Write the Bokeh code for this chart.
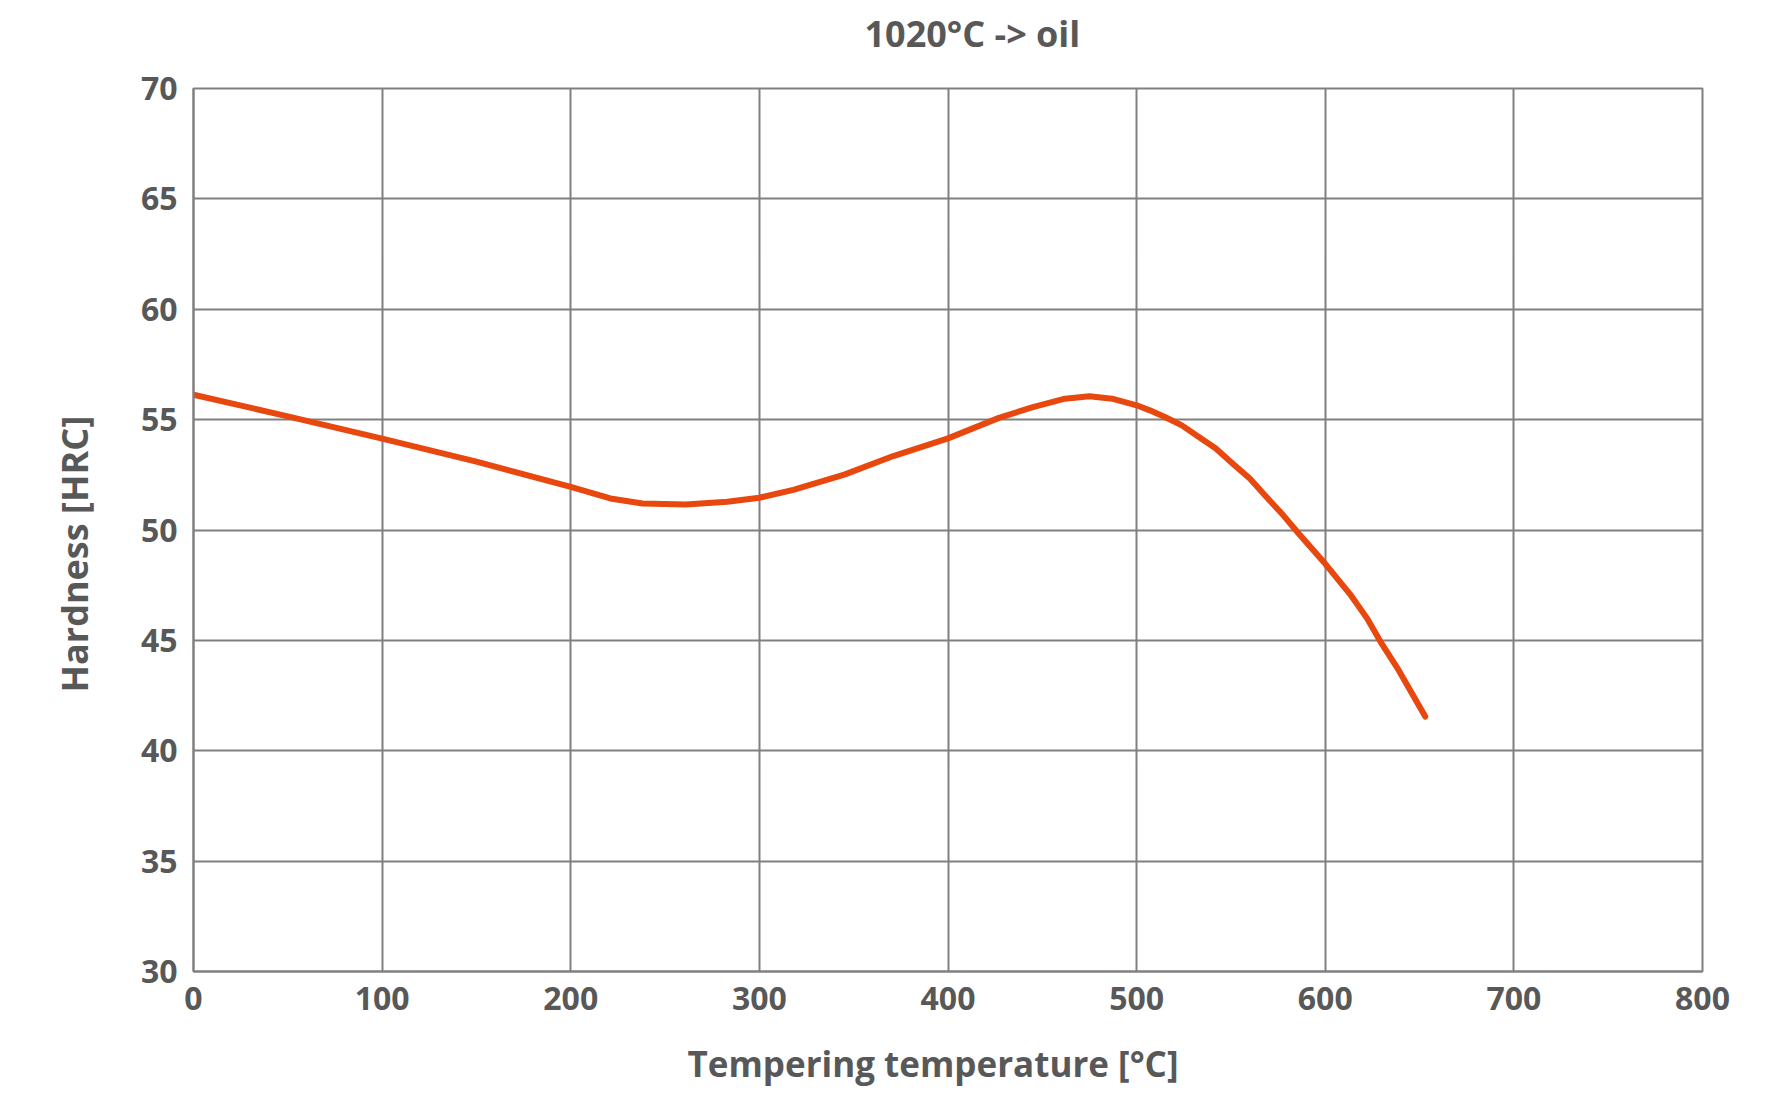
from bokeh.plotting import figure
from bokeh.models import Range1d, SingleIntervalTicker, Title
from bokeh.embed import file_html
from bokeh.resources import INLINE

# tempering curve
temperature = [0, 50, 100, 150, 200, 221, 238, 261, 283, 300, 318, 345, 371,
               400, 427, 445, 462, 475, 487, 500, 507, 515, 524, 533, 542, 551,
               560, 568, 577, 586, 600, 613, 622, 630, 639, 653]
hardness = [56.13, 55.15, 54.14, 53.1, 51.95, 51.43, 51.2, 51.15, 51.28, 51.46,
            51.82, 52.51, 53.35, 54.15, 55.08, 55.57, 55.95, 56.06, 55.95, 55.65,
            55.42, 55.12, 54.74, 54.21, 53.69, 53.0, 52.33, 51.57, 50.74, 49.83,
            48.47, 47.11, 46.02, 44.84, 43.64, 41.55]

title_text = "1020°C -> oil"
x_title = "Tempering temperature [°C]"
y_title = "Hardness [HRC]"

FONT = "Open Sans"
TEXT = "#585858"
GRID = "#808080"

p = figure(width=1755, height=1098,
           x_range=Range1d(0, 800), y_range=Range1d(30, 70),
           output_backend="svg", toolbar_location=None,
           min_border_left=193, min_border_right=53,
           min_border_top=88, min_border_bottom=127)

p.line(temperature, hardness, line_width=6, color="#E8470E",
       line_join="round", line_cap="round")

p.xaxis.ticker = SingleIntervalTicker(interval=100)
p.yaxis.ticker = SingleIntervalTicker(interval=5)

for ax in (p.xaxis, p.yaxis):
    ax.axis_line_color = GRID
    ax.axis_line_width = 2
    ax.major_tick_line_color = None
    ax.minor_tick_line_color = None
    ax.major_label_text_font = FONT
    ax.major_label_text_font_size = "32px"
    ax.major_label_text_font_style = "bold"
    ax.major_label_text_color = TEXT

p.xaxis.major_label_standoff = 9
p.yaxis.major_label_standoff = 10

p.xgrid.grid_line_color = GRID
p.ygrid.grid_line_color = GRID
p.xgrid.grid_line_width = 2
p.ygrid.grid_line_width = 2

p.outline_line_color = GRID
p.outline_line_width = 2
p.outline_line_alpha = 1

# titles as side panels, shifted along the frame like the original;
# small blank titles act as spacers between frame/axis and the text
style = dict(text_font=FONT, text_font_style="bold", text_color=TEXT,
             align="left")
p.add_layout(Title(text=" ", text_font_size="10px", standoff=18), "above")
p.add_layout(Title(text=title_text, text_font_size="36px", offset=671,
                   standoff=0, **style), "above")
p.add_layout(Title(text=" ", text_font_size="10px", standoff=12), "below")
p.add_layout(Title(text=x_title, text_font_size="35px", offset=494,
                   standoff=0, **style), "below")
p.add_layout(Title(text=y_title, text_font_size="36px", offset=279,
                   standoff=78, **style), "left")

open("out.html", "w").write(file_html(p, INLINE))
